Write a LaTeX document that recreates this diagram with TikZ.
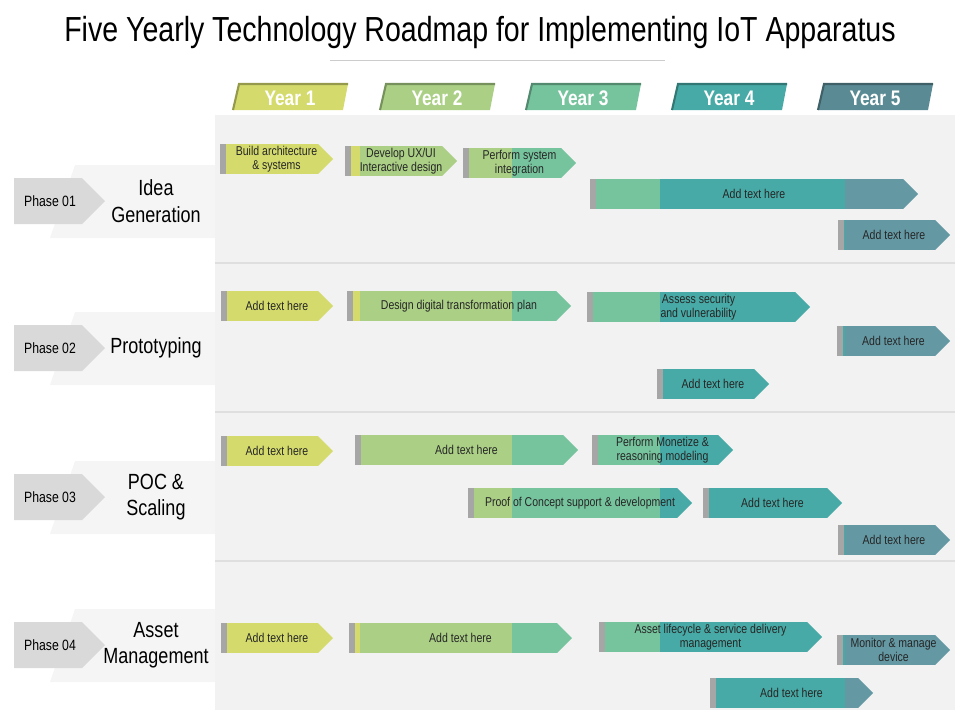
\documentclass[tikz,border=0pt]{standalone}
\usepackage{fontspec}
\setmainfont[FakeStretch=0.82]{Liberation Sans}
\usetikzlibrary{positioning}

\definecolor{yone}{HTML}{D4DB6C}
\definecolor{ytwo}{HTML}{AACF85}
\definecolor{ythree}{HTML}{76C49D}
\definecolor{yfour}{HTML}{48AAA6}
\definecolor{yfive}{HTML}{6499A4}
\definecolor{bgrey}{HTML}{F2F2F2}
\definecolor{pgrey}{HTML}{D9D9D9}

% one roadmap bar, coloured by the year it crosses
\newcommand{\roadbar}[5]{%
  \begin{scope}
    \clip (#2,{#4-15}) -- ({#3-15},{#4-15}) -- (#3,#4) -- ({#3-15},{#4+15}) -- (#2,{#4+15}) -- cycle;
    \fill[yone] (0,{#4-15}) rectangle (360,{#4+15});
    \fill[ytwo] (360,{#4-15}) rectangle (512,{#4+15});
    \fill[ythree] (512,{#4-15}) rectangle (660,{#4+15});
    \fill[yfour] (660,{#4-15}) rectangle (845,{#4+15});
    \fill[yfive] (845,{#4-15}) rectangle (960,{#4+15});
    \fill[gray!70] (#2,{#4-15}) rectangle ({#2+6},{#4+15});
  \end{scope}
  \node[bartext] (#1) at ({(#2+#3)/2},#4) {#5};}

% one phase label on the left
\newcommand{\phaselabel}[4]{%
  \fill[bgrey!80!white] (75,{#2-36}) -- (215,{#2-36}) -- (215,{#2+37}) -- (50,{#2+37}) -- cycle;
  \fill[pgrey] (14,{#2-23}) -- (82,{#2-23}) -- (105,#2) -- (82,{#2+23}) -- (14,{#2+23}) -- cycle;
  \node[font=\fontsize{8.5}{10}\selectfont] (#1) at (50,#2) {#3};
  \node[phasename] (#1name) at (156,#2) {#4};}

% one year header
\newcommand{\yearhead}[3]{%
  \fill[#2] ({#1+4},84) -- ({#1+113},84) -- ({#1+108},110) -- ({#1-2},110) -- cycle;
  \draw[#2!70!black, line width=1.2pt] ({#1-2},110) -- ({#1+4},84) -- ({#1+113},84);
  \node[yeartext] (year#3) at ({#1+55},98) {Year #3};}

\begin{document}
\begin{tikzpicture}[x=0.02cm, y=-0.02cm,
    bartext/.style={align=center, font=\fontsize{7.3}{8.3}\selectfont, text=black!85, inner sep=0pt},
    phasename/.style={align=center, font=\fontsize{12.5}{15}\selectfont},
    yeartext/.style={text=white, font=\bfseries\fontsize{12}{14}\selectfont}]
  \useasboundingbox (0,0) rectangle (960,720);

  % title
  \node (title) at (480,33) {\fontsize{19.8}{24}\selectfont Five Yearly Technology Roadmap for Implementing IoT Apparatus};
  \draw[gray!40] (330,60) -- (665,60);

  % background
  \fill[bgrey] (215,115) rectangle (955,710);
  \foreach \y in {263,412,561}
    \draw[gray!25, line width=1.2pt] (215,\y) -- (955,\y);

  % years
  \yearhead{235}{yone}{1}
  \yearhead{382}{ytwo}{2}
  \yearhead{528}{ythree}{3}
  \yearhead{674}{yfour}{4}
  \yearhead{820}{yfive!90!black}{5}

  % phases
  \phaselabel{ph1}{201}{Phase 01}{Idea\\Generation}
  \phaselabel{ph2}{348}{Phase 02}{Prototyping}
  \phaselabel{ph3}{497}{Phase 03}{POC \&\\Scaling}
  \phaselabel{ph4}{645}{Phase 04}{Asset\\Management}

  % phase 01
  \roadbar{a1}{220}{333}{159}{Build architecture\\\& systems}
  \roadbar{a2}{345}{457}{161}{Develop UX/UI\\Interactive design}
  \roadbar{a3}{463}{576}{163}{Perform system\\integration}
  \roadbar{a4}{590}{918}{194}{Add text here}
  \roadbar{a5}{838}{950}{235}{Add text here}

  % phase 02
  \roadbar{b1}{221}{333}{306}{Add text here}
  \roadbar{b2}{347}{571}{306}{Design digital transformation plan}
  \roadbar{b3}{587}{810}{307}{Assess security\\and vulnerability}
  \roadbar{b4}{837}{950}{341}{Add text here}
  \roadbar{b5}{657}{769}{384}{Add text here}

  % phase 03
  \roadbar{c1}{221}{333}{451}{Add text here}
  \roadbar{c2}{355}{578}{450}{Add text here}
  \roadbar{c3}{592}{733}{450}{Perform Monetize \&\\reasoning modeling}
  \roadbar{c4}{468}{692}{503}{Proof of Concept support \& development}
  \roadbar{c5}{703}{842}{503}{Add text here}
  \roadbar{c6}{838}{950}{540}{Add text here}

  % phase 04
  \roadbar{d1}{221}{333}{638}{Add text here}
  \roadbar{d2}{349}{572}{638}{Add text here}
  \roadbar{d3}{599}{822}{637}{Asset lifecycle \& service delivery\\management}
  \roadbar{d4}{837}{950}{650}{Monitor \& manage\\device}
  \roadbar{d5}{710}{873}{693}{Add text here}
\end{tikzpicture}
\end{document}
